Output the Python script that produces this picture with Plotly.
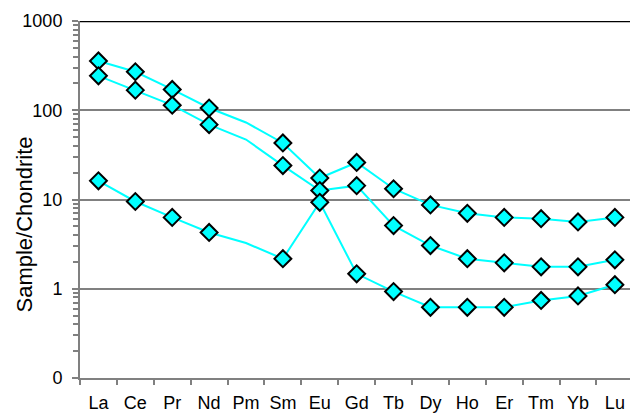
import plotly.graph_objects as go

elements = ["La", "Ce", "Pr", "Nd", "Pm", "Sm", "Eu", "Gd", "Tb", "Dy", "Ho", "Er", "Tm", "Yb", "Lu"]
no_marker = ["Pm"]  # interpolated element, line only

sample_a = [357, 270, 171, 106, 73, 43, 17.4, 26, 13.2, 8.7, 7.0, 6.3, 6.1, 5.6, 6.3]
sample_b = [243, 168, 114, 69, 47, 24, 12.6, 14.3, 5.1, 3.05, 2.17, 1.95, 1.76, 1.76, 2.11]
sample_c = [16.2, 9.5, 6.3, 4.27, 3.25, 2.17, 9.3, 1.47, 0.93, 0.62, 0.62, 0.62, 0.74, 0.83, 1.11]

y_tickvals = [0.1, 1, 10, 100, 1000]
y_ticktext = ["0", "1", "10", "100", "1000"]

FONT = "Liberation Sans, Arial, sans-serif"
GRID = "#808080"
CYAN = "#00FFFF"

opac = [0 if e in no_marker else 1 for e in elements]

fig = go.Figure()
for vals in [sample_a, sample_b, sample_c]:
    fig.add_trace(go.Scatter(
        x=elements, y=vals, mode="lines+markers",
        line=dict(color=CYAN, width=2),
        marker=dict(symbol="diamond", size=13, color=CYAN, opacity=opac,
                    line=dict(color="black", width=2)),
        showlegend=False, cliponaxis=False,
    ))

minor_vals = [m * 10 ** d for d in range(-1, 3) for m in range(2, 10)]

fig.update_layout(
    width=630, height=414,
    margin=dict(l=80, r=0, t=21, b=36),
    paper_bgcolor="white", plot_bgcolor="white",
    font=dict(family=FONT, size=18, color="black"),
    xaxis=dict(
        type="category", range=[-0.5, 14.41], tickangle=0, automargin=False,
        tickson="boundaries", ticks="outside", ticklen=5, tickwidth=1.5, tickcolor=GRID,
        showgrid=False, showline=True, linecolor=GRID, linewidth=2,
        tickfont=dict(size=18), ticklabelstandoff=7,
    ),
    yaxis=dict(
        type="log", range=[-1, 3], automargin=False,
        tickmode="array", tickvals=y_tickvals, ticktext=y_ticktext,
        ticks="outside", ticklen=6, tickwidth=1.5, tickcolor=GRID,
        showgrid=True, gridcolor=GRID, gridwidth=1.5,
        showline=True, linecolor=GRID, linewidth=2,
        zeroline=False, tickfont=dict(size=18), ticklabelstandoff=6,
        minor=dict(tickmode="array", tickvals=minor_vals, ticks="outside",
                   ticklen=5, tickwidth=1.5, tickcolor=GRID, showgrid=False),
    ),
    shapes=[dict(type="line", xref="paper", yref="y", x0=0, x1=1, y0=1000, y1=1000,
                 line=dict(color="black", width=2.5))],
    annotations=[dict(text="Sample/Chondrite", textangle=-90, xref="paper", yref="paper",
                      x=0, y=0.43, xanchor="center", yanchor="middle", xshift=-56,
                      showarrow=False, font=dict(size=22))],
)

fig.write_html("out.html")
